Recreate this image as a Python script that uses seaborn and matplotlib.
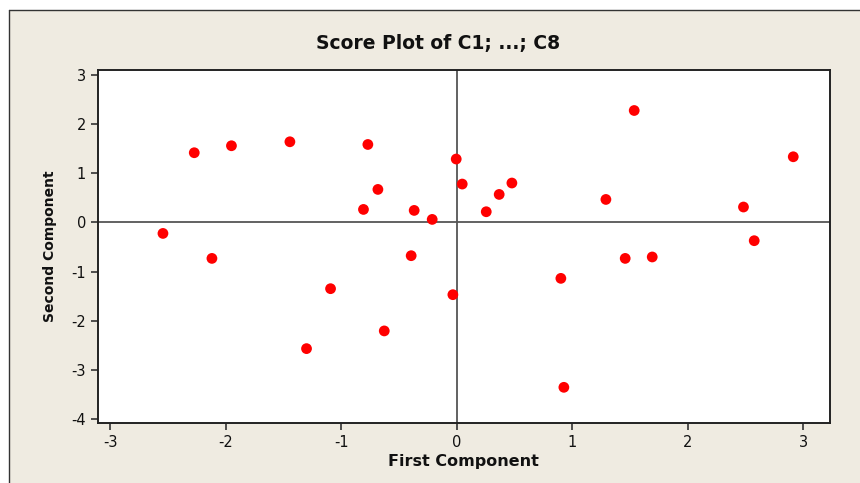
import matplotlib

matplotlib.use('Agg')
import matplotlib.pyplot as plt
from matplotlib.patches import Rectangle
from matplotlib.lines import Line2D
import numpy as np
import pandas as pd
import seaborn as sns

# scores
first_comp = [-2.545, -2.274, -2.121, -1.952, -1.446, -1.302, -1.094, -0.809, -0.771, -0.684,
              -0.629, -0.396, -0.370, -0.214, -0.035, -0.006, 0.046, 0.254, 0.366, 0.476,
              0.900, 0.926, 1.290, 1.457, 1.535, 1.691, 2.481, 2.574, 2.912]
second_comp = [-0.224, 1.417, -0.732, 1.559, 1.640, -2.567, -1.348, 0.264, 1.585, 0.671,
               -2.207, -0.677, 0.244, 0.061, -1.470, 1.289, 0.780, 0.217, 0.569, 0.801,
               -1.138, -3.354, 0.467, -0.732, 2.276, -0.703, 0.313, -0.372, 1.335]
x_ticks = [-3, -2, -1, 0, 1, 2, 3]
y_ticks = [-4, -3, -2, -1, 0, 1, 2, 3]

df = pd.DataFrame({'First Component': first_comp, 'Second Component': second_comp})

sns.set_style('white')
plt.rcParams['font.family'] = ['DejaVu Sans']
plt.rcParams['axes.unicode_minus'] = False

fig = plt.figure(figsize=(8.6, 4.83), dpi=100)
fig.patch.set_facecolor('white')
# beige panel, dark frame only on top and left
fig.patches.append(Rectangle((0.011, 0.0), 0.989, 0.979, transform=fig.transFigure,
                             facecolor='#EFEBE1', edgecolor='none', zorder=-5))
fig.lines.append(Line2D([0.011, 1.0], [0.979, 0.979], transform=fig.transFigure,
                        color='#333333', linewidth=1.0, zorder=-4))
fig.lines.append(Line2D([0.011, 0.011], [0.0, 0.979], transform=fig.transFigure,
                        color='#333333', linewidth=1.0, zorder=-4))

ax = fig.add_axes([0.1136, 0.1242, 0.8515, 0.7309])
ax.set_zorder(2)
ax.set_facecolor('white')

ax.axhline(0, color='#555555', linewidth=1.3, zorder=1)
ax.axvline(0, color='#555555', linewidth=1.3, zorder=1)

sns.scatterplot(data=df, x='First Component', y='Second Component', ax=ax,
                color='#FF0000', s=60, edgecolor='none', zorder=3)

ax.set_xlim(-3.11, 3.23)
ax.set_ylim(-4.08, 3.10)
ax.set_xticks(x_ticks)
ax.set_yticks(y_ticks)
ax.tick_params(axis='both', direction='out', length=5, width=1.2, color='#333333',
               labelsize=10.5, labelcolor='#111111', bottom=True, left=True)

for sp in ax.spines.values():
    sp.set_color('#222222')
    sp.set_linewidth(1.4)

ax.set_xlabel('First Component', fontsize=11.5, fontweight='bold', labelpad=3, color='#111111')
ax.set_ylabel('Second Component', fontsize=10, fontweight='bold', labelpad=10, color='#111111')
fig.text(438 / 860, 1 - 44 / 483, 'Score Plot of C1; ...; C8', fontsize=13.5, fontweight='bold',
         color='#111111', ha='center', va='center')

fig.savefig('out.png', dpi=100, facecolor=fig.get_facecolor())
plt.close()
